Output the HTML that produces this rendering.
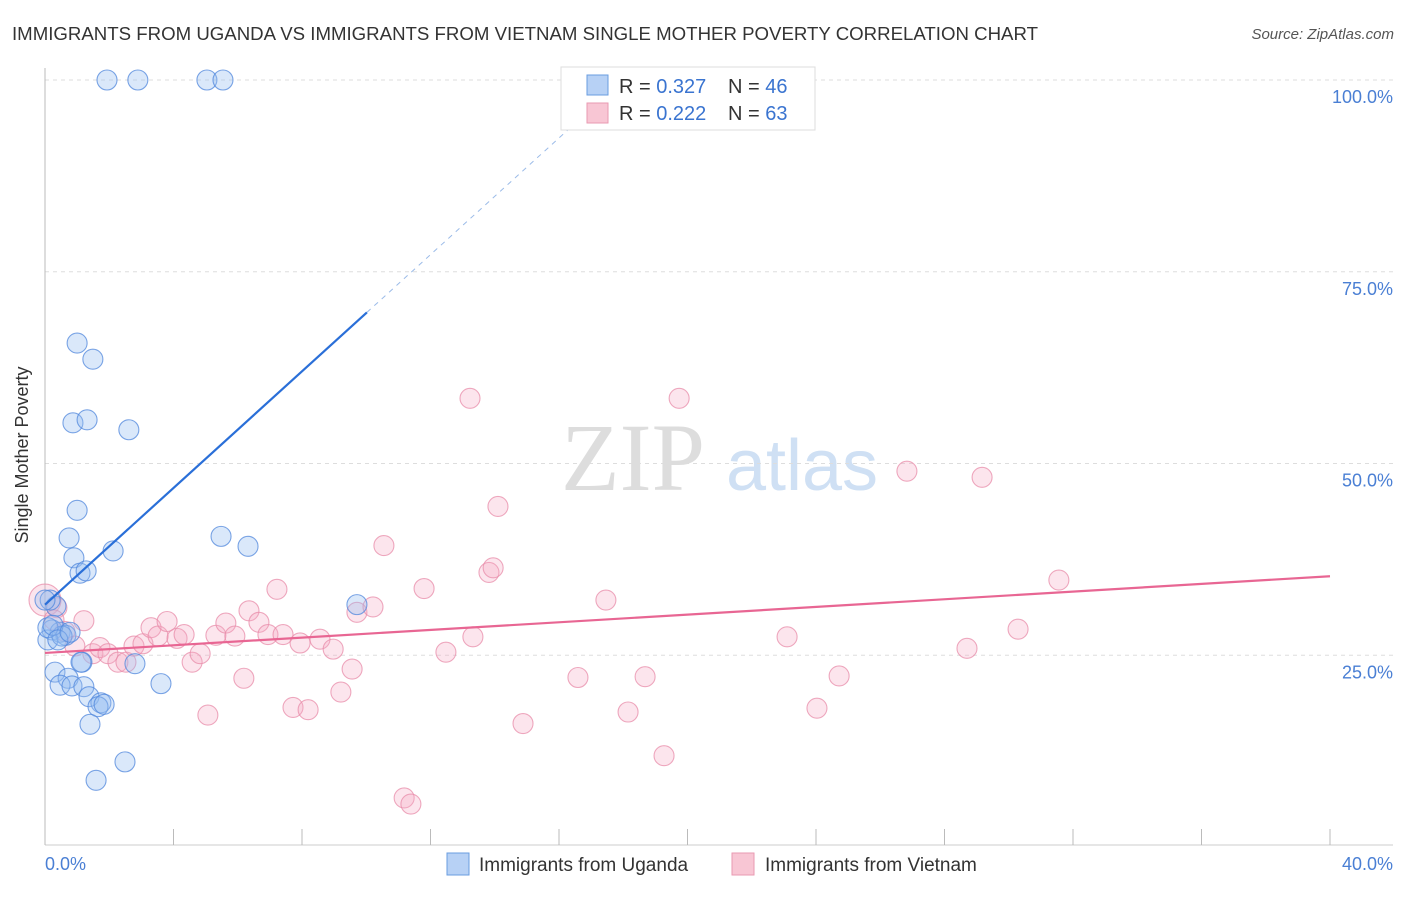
<!DOCTYPE html>
<html><head><meta charset="utf-8"><style>
body{margin:0;background:#fff;font-family:"Liberation Sans",sans-serif;}
</style></head><body>
<svg width="1406" height="892" xmlns="http://www.w3.org/2000/svg">
<text x="12" y="40" font-size="18" fill="#333" textLength="1026" lengthAdjust="spacingAndGlyphs">IMMIGRANTS FROM UGANDA VS IMMIGRANTS FROM VIETNAM SINGLE MOTHER POVERTY CORRELATION CHART</text>
<text x="1394" y="39" font-size="15" fill="#555" font-style="italic" text-anchor="end">Source: ZipAtlas.com</text>
<text x="633" y="490" font-size="96" fill="#ddd" font-family="Liberation Serif,serif" text-anchor="middle">ZIP</text>
<text x="802" y="490" font-size="72" fill="#cfe0f4" text-anchor="middle">atlas</text>
<g id="grid"></g>
<g id="axes"></g>
<g id="pts"></g>
<g id="lines"></g>
<text x="28" y="455" font-size="18" fill="#333" transform="rotate(-90 28 455)" text-anchor="middle">Single Mother Poverty</text>
<text x="45" y="870" font-size="18" fill="#4a7fd4">0.0%</text>
<text x="1393" y="870" font-size="18" fill="#4a7fd4" text-anchor="end">40.0%</text>
<g>
<rect x="561" y="67" width="254" height="63" fill="#fff" stroke="#ddd"/>
<rect x="587" y="75" width="21" height="20" fill="#b7d1f5" stroke="#6a9de0"/>
<rect x="587" y="103" width="21" height="20" fill="#f8c6d4" stroke="#e99ab2"/>
<text x="619" y="93" font-size="20" fill="#333">R = <tspan fill="#3a74d0">0.327</tspan></text>
<text x="728" y="93" font-size="20" fill="#333">N = <tspan fill="#3a74d0">46</tspan></text>
<text x="619" y="120" font-size="20" fill="#333">R = <tspan fill="#3a74d0">0.222</tspan></text>
<text x="728" y="120" font-size="20" fill="#333">N = <tspan fill="#3a74d0">63</tspan></text>
</g>
<g>
<rect x="447" y="853" width="22" height="22" fill="#b7d1f5" stroke="#6a9de0"/>
<text x="479" y="871" font-size="19" fill="#333">Immigrants from Uganda</text>
<rect x="732" y="853" width="22" height="22" fill="#f8c6d4" stroke="#e99ab2"/>
<text x="765" y="871" font-size="19" fill="#333">Immigrants from Vietnam</text>
</g>
</svg>
<script>
const ugX=[1.93,2.89,5.04,5.54,1.0,1.49,0.87,1.31,2.61,1.0,0.75,0.9,2.12,1.09,1.28,5.48,6.32,9.71,0.34,0.16,0.22,0.47,0.65,0.09,0.53,0.31,0.72,0.47,0.84,1.21,1.15,1.12,2.8,1.37,1.74,1.65,1.84,1.4,3.61,2.49,1.59,0.09,0.25,0.4,0.0,0.78];
const ugY=[100,100,100,100,65.7,63.6,55.3,55.7,54.4,43.9,40.3,37.7,38.6,35.7,36,40.5,39.2,31.6,31.4,32.2,28.3,28,27.6,27,27.5,22.8,22,21.1,21,20.9,24.1,24.1,23.9,19.6,18.8,18.3,18.6,16,21.3,11.1,8.7,28.6,28.9,27,32.2,28];
const vnX=[0.0,0.37,0.28,1.21,0.62,0.93,1.49,1.71,1.96,2.27,2.52,2.77,3.05,3.3,3.52,3.8,4.11,4.33,4.58,4.83,5.07,5.32,5.63,5.91,6.19,6.35,6.66,6.94,7.22,7.41,7.72,7.94,8.19,8.56,8.97,9.21,9.56,9.71,10.21,10.55,11.18,11.39,11.8,12.48,13.23,13.32,13.82,13.95,14.1,14.88,16.59,17.46,18.15,18.68,19.27,19.74,23.1,24.03,24.72,26.83,28.7,29.17,30.29,31.56];
const vnY=[32.2,31.2,29.6,29.5,28.1,26.2,25.2,26,25.2,24.1,24.1,26.2,26.5,28.6,27.5,29.4,27.2,27.7,24.1,25.2,17.2,27.6,29.2,27.5,22,30.8,29.3,27.7,33.6,27.7,18.2,26.6,17.9,27.1,25.8,20.2,23.2,30.6,31.3,39.3,6.4,5.6,33.7,25.4,58.5,27.4,35.8,36.4,44.4,16.1,22.1,32.2,17.6,22.2,11.9,58.5,27.4,18.1,22.3,49,25.9,48.2,28.4,34.8];
const ugLine=[0,31.6,10.02,69.7];
const vnLine=[0,25.3,40,35.3];
const X=v=>45+v*1285/40, Y=v=>847-v*7.67;
const NS='http://www.w3.org/2000/svg';
function mk(t,a,p){const e=document.createElementNS(NS,t);for(const k in a)e.setAttribute(k,a[k]);p.appendChild(e);return e;}
const grid=document.getElementById('grid');
[25,50,75,100].forEach(v=>{
  const l=mk('line',{x1:45,x2:1393,y1:Y(v),y2:Y(v),stroke:'#ddd','stroke-dasharray':'4,4'},grid);
  
  
  const t=mk('text',{x:1393,y:Y(v)+23,'font-size':18,fill:'#4a7fd4','text-anchor':'end'},grid);
  t.textContent=v.toFixed(1)+'%';
  
  
});
const ax=document.getElementById('axes');
const xa=mk('line',{x1:45,x2:1393,y1:845,y2:845,stroke:'#ccc'},ax);


const ya=mk('line',{x1:45,x2:45,y1:68,y2:845,stroke:'#bbb'},ax);


for(let i=0;i<=10;i++){
  const t=mk('line',{x1:X(i*4),x2:X(i*4),y1:829,y2:845,stroke:'#bbb'},ax);
  
  
}
const pts=document.getElementById('pts');
vnX.forEach((x,i)=>{
  const c=mk('circle',{cx:X(x),cy:Y(vnY[i]),r:i==0?16:10,fill:'rgba(246,170,195,0.3)',stroke:'rgba(232,140,170,0.75)','stroke-width':1.1},pts);
  
  
});
ugX.forEach((x,i)=>{
  const c=mk('circle',{cx:X(x),cy:Y(ugY[i]),r:10,fill:'rgba(150,190,240,0.35)',stroke:'rgba(80,135,220,0.75)','stroke-width':1.1},pts);
  
  
});
const ln=document.getElementById('lines');
const slope=(ugLine[3]-ugLine[1])/(ugLine[2]-ugLine[0]);
const d=mk('line',{x1:X(ugLine[2]),y1:Y(ugLine[3]),x2:X(16.8),y2:Y(ugLine[1]+slope*16.8),stroke:'#9bbbe8','stroke-dasharray':'5,5'},ln);


const u=mk('line',{x1:X(ugLine[0]),y1:Y(ugLine[1]),x2:X(ugLine[2]),y2:Y(ugLine[3]),stroke:'#2a6fd8','stroke-width':2.2},ln);


const v=mk('line',{x1:X(vnLine[0]),y1:Y(vnLine[1]),x2:X(vnLine[2]),y2:Y(vnLine[3]),stroke:'#e86693','stroke-width':2.2},ln);


</script>
</body></html>
